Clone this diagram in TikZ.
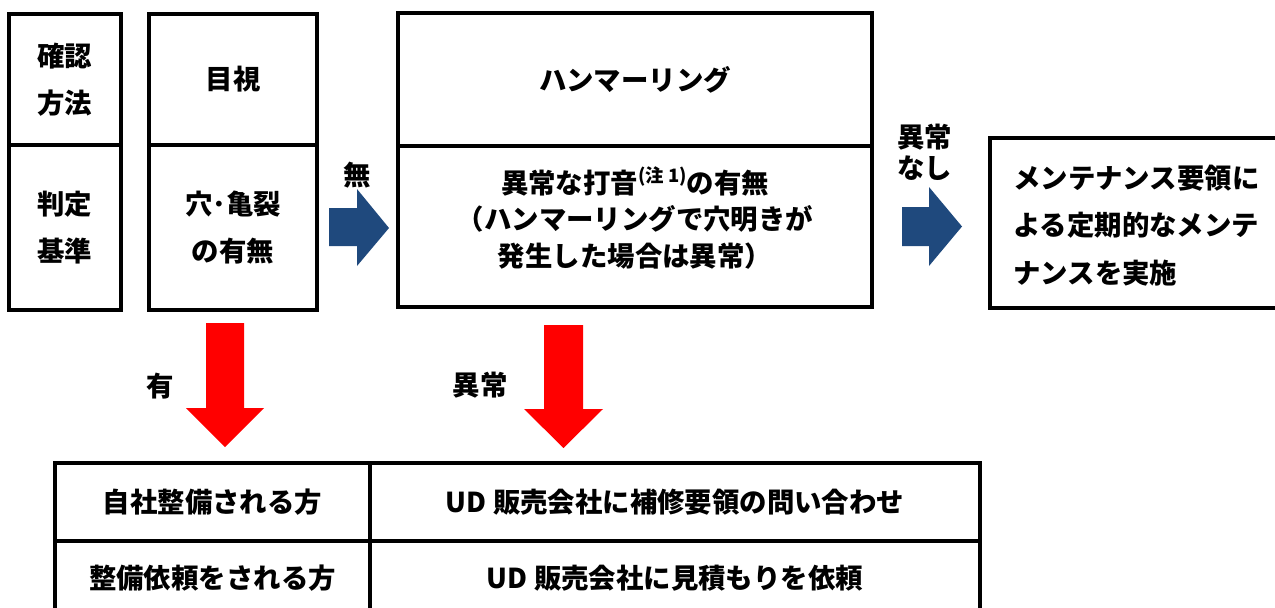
\documentclass[tikz,border=0pt]{standalone}
\usepackage{fontspec}
\setmainfont{Noto Sans CJK JP}
\usetikzlibrary{positioning}
\definecolor{arrowblue}{RGB}{31,73,125}
\newdimen\px \px=0.02cm
\tikzset{cell/.style={draw, line width=1.9pt, inner sep=0pt, outer sep=0pt, align=center,
    font=\bfseries\fontsize{15.6pt}{27pt}\selectfont},
  lbl/.style={inner sep=0pt, align=left, font=\bfseries\fontsize{15.6pt}{17.6pt}\selectfont},
  bluearrow/.style={fill=arrowblue},
  redarrow/.style={fill=red}
}

\begin{document}
\begin{tikzpicture}[x=0.02cm, y=-0.02cm]
\useasboundingbox (0,0) rectangle (1275,608);

% left columns
\node[cell, minimum width=112\px, minimum height=131\px] (hoho) at (65,79.5) {確認\\方法};
\node[cell, minimum width=112\px, minimum height=165\px, below=0pt of hoho] (kijun) {判定\\基準};
\node[cell, minimum width=168\px, minimum height=131\px] (mokushi) at (233,79.5) {目視};
\node[cell, minimum width=168\px, minimum height=165\px, below=0pt of mokushi] (ana) {穴･亀裂\\の有無};

% hammering
\node[cell, minimum width=474\px, minimum height=133\px] (hammer) at (635,79.5) {ハンマーリング};
\node[cell, minimum width=474\px, minimum height=161\px, below=0pt of hammer] (dato) {};
\node[lbl, align=center, font=\bfseries\fontsize{15.6pt}{20.7pt}\selectfont] (datotxt)
  at ([yshift=4.8pt]dato.center)
  {異常な打音\raisebox{0.7ex}{\fontsize{10.5pt}{10.5pt}\selectfont (注 1)}の有無\\（ハンマーリングで穴明きが\\発生した場合は異常）};

% maintenance
\node[cell, minimum width=300\px, minimum height=170\px] (maint) at (1140,223) {};
\node[lbl, anchor=west, font=\bfseries\fontsize{15.6pt}{27pt}\selectfont] (mainttxt) at (1013,225.5)
  {メンテナンス要領に\\よる定期的なメンテ\\ナンスを実施};

% table
\node[cell, minimum width=315\px, minimum height=78\px] (jisha) at (212.5,502) {自社整備される方};
\node[cell, minimum width=610\px, minimum height=78\px, right=0pt of jisha] (toiawase) {UD 販売会社に補修要領の問い合わせ};
\node[cell, minimum width=315\px, minimum height=74\px, below=0pt of jisha] (irai) {整備依頼をされる方};
\node[cell, minimum width=610\px, minimum height=74\px, below=0pt of toiawase] (mitsumori) {UD 販売会社に見積もりを依頼};

% arrows
\fill[bluearrow] (329,208) -- (357,208) -- (357,189) -- (389,228) -- (357,266) -- (357,246) -- (329,246) -- cycle;
\node[lbl] (nai) at (357,175) {無};
\fill[bluearrow] (902,207) -- (929,207) -- (929,187) -- (962,226.5) -- (929,266) -- (929,246) -- (902,246) -- cycle;
\node[lbl, anchor=west] (ijonashi) at (897,152.5) {異常\\なし};

\fill[redarrow] (206,323) -- (244,323) -- (244,408) -- (264,408) -- (225,447) -- (186,408) -- (206,408) -- cycle;
\node[lbl] (ari) at (160,386) {有};
\fill[redarrow] (544,325) -- (583,325) -- (583,409) -- (603,409) -- (563.5,448) -- (524,409) -- (544,409) -- cycle;
\node[lbl] (ijo) at (480,385) {異常};
\end{tikzpicture}
\end{document}
